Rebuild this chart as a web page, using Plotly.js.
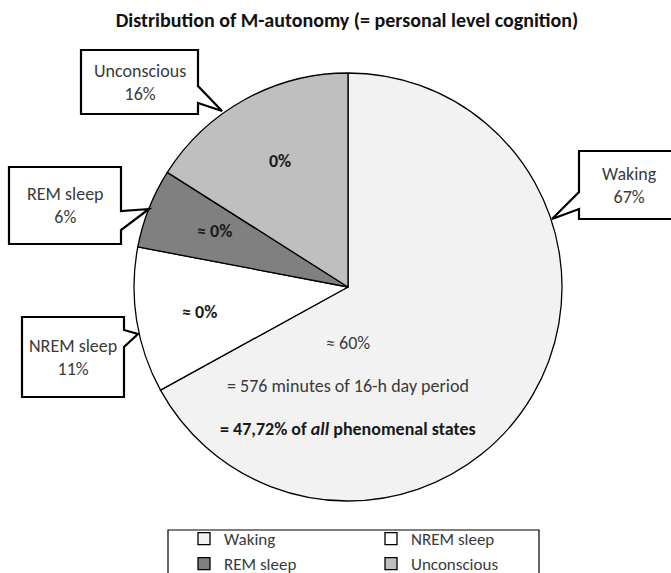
<!DOCTYPE html>
<html>
<head>
<meta charset="utf-8">
<script src="https://cdn.plot.ly/plotly-3.0.1.min.js"></script>
<style>html,body{margin:0;padding:0;background:#fff;}#chart{width:671px;height:573px;}</style>
</head>
<body>
<div id="chart"></div>
<script>
// ---- data ----
const labels = ['Waking', 'NREM sleep', 'REM sleep', 'Unconscious'];
const values = [67, 11, 6, 16];
const sliceNotes = ['≈ 60%', '≈ 0%', '≈ 0%', '0%'];
const wakingExtra = ['= 576 minutes of 16-h day period', '= 47,72% of <i>all</i> phenomenal states'];
const titleText = 'Distribution of M-autonomy (= personal level cognition)';

// ---- layout helpers (pixel -> paper) ----
const W = 671, H = 573;
const FONT = 'Carlito, Lato, sans-serif';
const FS = 18;
const R = 214, CX = 348, CY = 287;
const ML = CX - R, MR = W - (CX + R), MT = CY - R, MB = H - (CY + R);
const PW = W - ML - MR, PH = H - MT - MB;
const fx = x => (x - ML) / PW;
const fy = y => 1 - (y - MT) / PH;
function pathOf(pts) {
  return 'M' + pts.map(p => fx(p[0]).toFixed(5) + ',' + fy(p[1]).toFixed(5)).join(' L') + ' Z';
}

const colors = ['#f2f2f2', '#ffffff', '#808080', '#bfbfbf'];

// callout geometry (box: x0,x1,y0,y1 ; pointer: side, base y0, y1, tip)
const callouts = [
  {box: [579, 700, 151, 219], side: 'left', b0: 192, b1: 209, tip: [552, 219]},
  {box: [22, 124, 317, 397], side: 'right', b0: 330, b1: 347, tip: [138, 334]},
  {box: [9, 121, 167, 244], side: 'right', b0: 211, b1: 230, tip: [149, 209]},
  {box: [81, 198, 50, 114], side: 'right', b0: 86, b1: 103, tip: [222, 111]}
];

const shapes = [];
const annotations = [];
function note(x, y, text, color) {
  annotations.push({xref: 'paper', yref: 'paper', x: fx(x), y: fy(y), xanchor: 'center', yanchor: 'middle',
    text: text, showarrow: false, align: 'center', font: {family: FONT, size: FS, color: color}});
}
callouts.forEach((c, i) => {
  const [x0, x1, y0, y1] = c.box;
  let pts;
  if (c.side === 'right') {
    pts = [[x0, y0], [x1, y0], [x1, c.b0], c.tip, [x1, c.b1], [x1, y1], [x0, y1]];
  } else {
    pts = [[x0, y0], [x1, y0], [x1, y1], [x0, y1], [x0, c.b1], c.tip, [x0, c.b0]];
  }
  shapes.push({type: 'path', xref: 'paper', yref: 'paper', path: pathOf(pts),
    fillcolor: '#ffffff', line: {color: '#000000', width: 2.2}, layer: 'above'});
  const cx = i === 0 ? 629 : (x0 + x1) / 2;
  note(cx, (y0 + y1) / 2, labels[i] + '<br>' + values[i] + '%', '#3a3a3a');
});

// slice notes
const notePos = [[348, 343], [199, 312], [214, 231], [280, 161]];
sliceNotes.forEach((t, i) => {
  note(notePos[i][0], notePos[i][1], i === 0 ? t : '<b>' + t + '</b>', i === 0 ? '#3a3a3a' : '#1a1a1a');
});
note(348, 386, wakingExtra[0], '#3a3a3a');
note(348, 429, '<b>' + wakingExtra[1] + '</b>', '#1a1a1a');

// legend frame
shapes.push({type: 'rect', xref: 'paper', yref: 'paper', x0: fx(168), x1: fx(539), y0: fy(600), y1: fy(530),
  line: {color: '#000000', width: 1.2}, fillcolor: 'rgba(0,0,0,0)', layer: 'below'});

const trace = {
  type: 'pie', labels: labels, values: values, sort: false, direction: 'clockwise', rotation: 0,
  textinfo: 'none', hoverinfo: 'none',
  marker: {colors: colors, line: {color: '#000000', width: 1.3}},
  domain: {x: [0, 1], y: [0, 1]}
};

const layout = {
  width: W, height: H, margin: {l: ML, r: MR, t: MT, b: MB, pad: 0, autoexpand: false},
  paper_bgcolor: '#ffffff',
  title: {text: '<b>' + titleText + '</b>', xref: 'container', yref: 'container', x: 347 / W, xanchor: 'center',
    y: 1 - 20 / H, yanchor: 'middle', font: {family: FONT, size: 20, color: '#111111'}},
  showlegend: true,
  legend: {orientation: 'h', xref: 'container', yref: 'container', x: 184 / W, xanchor: 'left', y: 1 - 521 / H, yanchor: 'top',
    entrywidth: 142, entrywidthmode: 'pixels', traceorder: 'normal',
    font: {family: FONT, size: 17, color: '#3a3a3a'}, bgcolor: 'rgba(0,0,0,0)', borderwidth: 0,
    itemwidth: 30, tracegroupgap: 0},
  shapes: shapes,
  annotations: annotations
};

Plotly.newPlot('chart', [trace], layout, {displayModeBar: false, staticPlot: true});
</script>
</body>
</html>
